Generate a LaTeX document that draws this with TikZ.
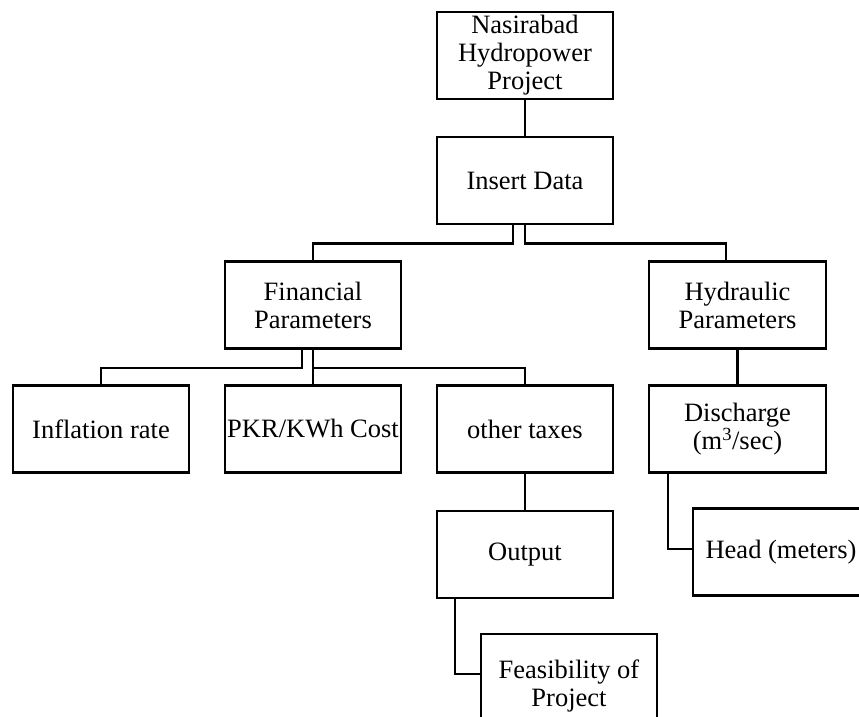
\documentclass[tikz,border=0pt]{standalone}
\usepackage{fontspec}
\setmainfont{Liberation Serif}
\usetikzlibrary{calc}
\begin{document}
\begin{tikzpicture}[x=1pt,y=-1pt,
  box/.style={draw=black,line width=2.6pt,minimum width=176pt,minimum height=87pt,inner sep=0pt,align=center,
    font=\fontsize{26.5}{28}\selectfont},
  link/.style={draw=black,line width=2.6pt}]
\useasboundingbox (0,0) rectangle (859,717);
\clip (0,0) rectangle (859,717);
\node[box] (nas) at (525,55.5) {Nasirabad\\Hydropower\\Project};
\node[box] (ins) at (525,180.5) {Insert Data};
\node[box] (fin) at (313,305) {Financial\\Parameters};
\node[box,minimum width=177pt] (hyd) at (737.5,305) {Hydraulic\\Parameters};
\node[box] (inf) at (101,429) {Inflation rate};
\node[box] (pkr) at (313,429) {PKR/KWh Cost};
\node[box] (oth) at (525,429) {other taxes};
\node[box,minimum width=177pt] (dis) at (737.5,429) {Discharge\\(m\textsuperscript{3}/sec)};
\node[box] (out) at (525,554.5) {Output};
\node[box] (head) at (781,552) {Head (meters)};
\node[box,minimum height=104pt] (fea) at (569,686) {Feasibility of\\Project};
\path[link] (nas.south) -- (ins.north);
\path[link] ([xshift=-12pt]ins.south) -- ++(0,18) -| (fin.north);
\path[link] (ins.south) -- ++(0,18) -| ([xshift=-11.5pt]hyd.north);
\path[link] (hyd.south) -- (dis.north);
\path[link] ([xshift=-11pt]fin.south) -- ++(0,18) -| (inf.north);
\path[link] (fin.south) -- (pkr.north);
\path[link] ([yshift=-18pt]fin.south) -| (oth.north);
\path[link] (oth.south) -- (out.north);
\path[link] ([xshift=-70pt]out.south) |- ([yshift=12pt]fea.west);
\path[link] ([xshift=-69.5pt]dis.south) |- ([yshift=3pt]head.west);
\end{tikzpicture}
\end{document}
